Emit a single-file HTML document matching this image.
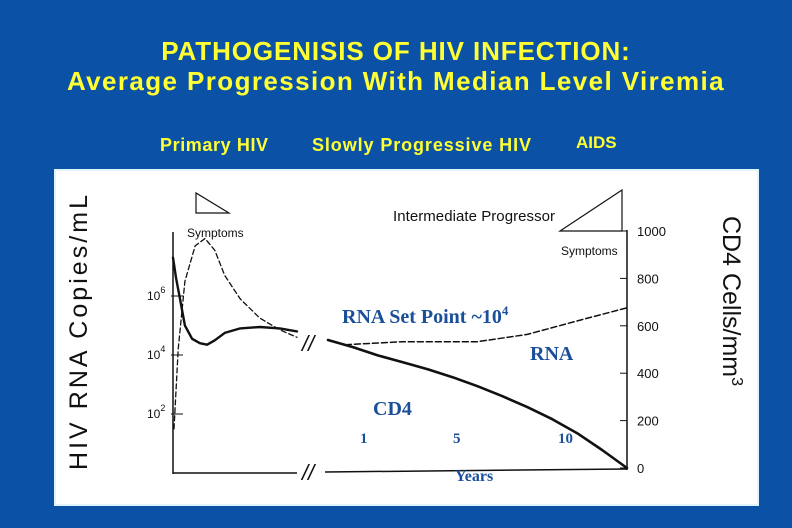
<!DOCTYPE html>
<html><head><meta charset="utf-8">
<style>
html,body{margin:0;padding:0;}
body{width:792px;height:528px;background:#0b52a6;overflow:hidden;position:relative;font-family:"Liberation Sans",Arial,sans-serif;}
.t{position:absolute;color:#ffff33;font-weight:bold;white-space:nowrap;}
</style></head>
<body>
<div class="t" style="left:0;width:792px;text-align:center;top:36px;font-size:26px;letter-spacing:0.9px;">PATHOGENISIS OF HIV INFECTION:</div>
<div class="t" style="left:0;width:792px;text-align:center;top:66px;font-size:26px;letter-spacing:1.4px;">Average Progression With Median Level Viremia</div>
<div class="t" style="left:160px;top:135px;font-size:18px;letter-spacing:0.6px;">Primary HIV</div>
<div class="t" style="left:312px;top:135px;font-size:18px;letter-spacing:0.9px;">Slowly Progressive HIV</div>
<div class="t" style="left:576px;top:133px;font-size:17px;">AIDS</div>
<svg id="chart" style="position:absolute;left:0;top:0" width="792" height="528">
<rect x="55" y="170" width="703" height="335" fill="#fff" stroke="#e0f4ff" stroke-width="2"/>
</svg>
<script>
// phase 1 (weeks) – log10 RNA copies
const p1Weeks=[0,0.6,1.35,2.3,3.7,5.2,6.6,8.1,10,13,16.8,20.7,24];
const p1Solid=[7.3,6.6,5.9,5.0,4.55,4.4,4.35,4.5,4.75,4.9,4.95,4.9,4.8];
const p1DashWeeks=[0.2,1,2.3,4.3,6.2,8.1,10,13,16.8,20.7,24];
const p1Dashed=[1.5,4.2,6.5,7.7,7.95,7.55,6.7,5.9,5.25,4.85,4.6];
// phase 2 (years)
const cd4Years=[0,1,2,3,4,5,6,7,8,9,10,11,12];
const cd4Values=[540,510,475,446,417,383,345,303,257,206,147,76,0];
const rnaYears=[0.7,3,6,8,10.2,12];
const rnaLog=[4.35,4.45,4.45,4.7,5.2,5.6];
const leftTicks=[6,4,2];
const rightTicks=[0,200,400,600,800,1000];
const yearLabels=["1","5","10"];

const svg=document.getElementById('chart');
const NS="http://www.w3.org/2000/svg";
const xW=w=>173+w*(124/24);
const xY=y=>328+y*(299/12);
const yLog=l=>355-(l-4)*29.5;
const yCD4=c=>468-c*(237/1000);
function mk(tag,attrs,name,txt){const e=document.createElementNS(NS,tag);for(const k in attrs)e.setAttribute(k,attrs[k]);


if(txt!==undefined)e.textContent=txt;svg.appendChild(e);return e;}
function poly(xs,ys,fx,fy,name,dash,w){
 const d=xs.map((v,i)=>(i?'L':'M')+fx(v).toFixed(1)+','+fy(ys[i]).toFixed(1)).join(' ');
 return mk('path',{d:d,fill:'none',stroke:'#111','stroke-width':w,'stroke-dasharray':dash||'none','stroke-linejoin':'round','stroke-linecap':'round'},name);}
// axes
mk('line',{x1:173,y1:232,x2:173,y2:474,stroke:'#111','stroke-width':1.5},'left-axis');
mk('line',{x1:627,y1:230,x2:627,y2:470,stroke:'#111','stroke-width':1.5},'right-axis');
mk('line',{x1:173,y1:473,x2:297,y2:473,stroke:'#111','stroke-width':1.5},'x-axis-primary');
mk('line',{x1:325,y1:472,x2:627,y2:469,stroke:'#111','stroke-width':1.5},'x-axis-chronic');
mk('text',{x:302,y:480,'font-size':22,'font-style':'italic',fill:'#111','font-family':'Liberation Sans'},'x-axis-break','//');
mk('text',{x:302,y:351,'font-size':22,'font-style':'italic',fill:'#111','font-family':'Liberation Sans'},'curve-break','//');
leftTicks.forEach(t=>{const y=yLog(t);
 mk('line',{x1:171,y1:y,x2:183,y2:y,stroke:'#111','stroke-width':1},'left-tick');
 const tx=mk('text',{x:147,y:y+4,'font-size':12,fill:'#111'},'left-tick-label','10');
 const s=document.createElementNS(NS,'tspan');s.setAttribute('dy','-7');s.setAttribute('font-size','9');s.textContent=t;tx.appendChild(s);});
rightTicks.forEach(t=>{const y=yCD4(t);
 mk('line',{x1:620,y1:y,x2:627,y2:y,stroke:'#111','stroke-width':1},'right-tick');
 mk('text',{x:637,y:y+5,'font-size':13,fill:'#111'},'right-tick-label',String(t));});
// series
poly(p1DashWeeks,p1Dashed,xW,yLog,'primary-rna-dashed','5,3',1.3);
poly(p1Weeks,p1Solid,xW,yLog,'primary-solid',null,2.4);
poly(rnaYears,rnaLog,xY,yLog,'rna-dashed-line','6,3',1.5);
poly(cd4Years,cd4Values,xY,yCD4,'cd4-line',null,2.6);
// triangles and annotations
mk('path',{d:'M196,193 L196,213 L229,213 Z',fill:'none',stroke:'#111','stroke-width':1.2},'symptoms-triangle-left');
mk('text',{x:187,y:237,'font-size':12,fill:'#111'},'symptoms-label-left','Symptoms');
mk('path',{d:'M560,231 L622,231 L622,190 Z',fill:'none',stroke:'#111','stroke-width':1.2},'symptoms-triangle-right');
mk('text',{x:561,y:255,'font-size':12,fill:'#111'},'symptoms-label-right','Symptoms');
mk('text',{x:393,y:221,'font-size':15,fill:'#111',textLength:162},'intermediate-progressor-label','Intermediate Progressor');
const bl='#1a4f9a',sf='Liberation Serif';
const sp=mk('text',{x:342,y:323,'font-size':20,'font-weight':'bold',fill:bl,'font-family':sf},'rna-set-point-label','RNA Set Point ~10');
const sup=document.createElementNS(NS,'tspan');sup.setAttribute('dy','-8');sup.setAttribute('font-size','13');sup.textContent='4';sp.appendChild(sup);
mk('text',{x:530,y:360,'font-size':20,'font-weight':'bold',fill:bl,'font-family':sf},'rna-label','RNA');
mk('text',{x:373,y:415,'font-size':20,'font-weight':'bold',fill:bl,'font-family':sf},'cd4-label','CD4');
const yl=[360,453,558];
yearLabels.forEach((l,i)=>mk('text',{x:yl[i],y:443,'font-size':15,'font-weight':'bold',fill:bl,'font-family':sf},'year-label',l));
mk('text',{x:455,y:481,'font-size':16,'font-weight':'bold',fill:bl,'font-family':sf},'x-axis-title','Years');
mk('text',{x:0,y:0,'font-size':25,fill:'#111',transform:'translate(87,470) rotate(-90)',textLength:275},'left-axis-title','HIV RNA Copies/mL');
const rt=mk('text',{x:0,y:0,'font-size':25,fill:'#111',transform:'translate(723,216) rotate(90)'},'right-axis-title','CD4 Cells/mm');
const s3=document.createElementNS(NS,'tspan');s3.setAttribute('dy','-9');s3.setAttribute('font-size','16');s3.textContent='3';rt.appendChild(s3);
</script>
</body></html>
